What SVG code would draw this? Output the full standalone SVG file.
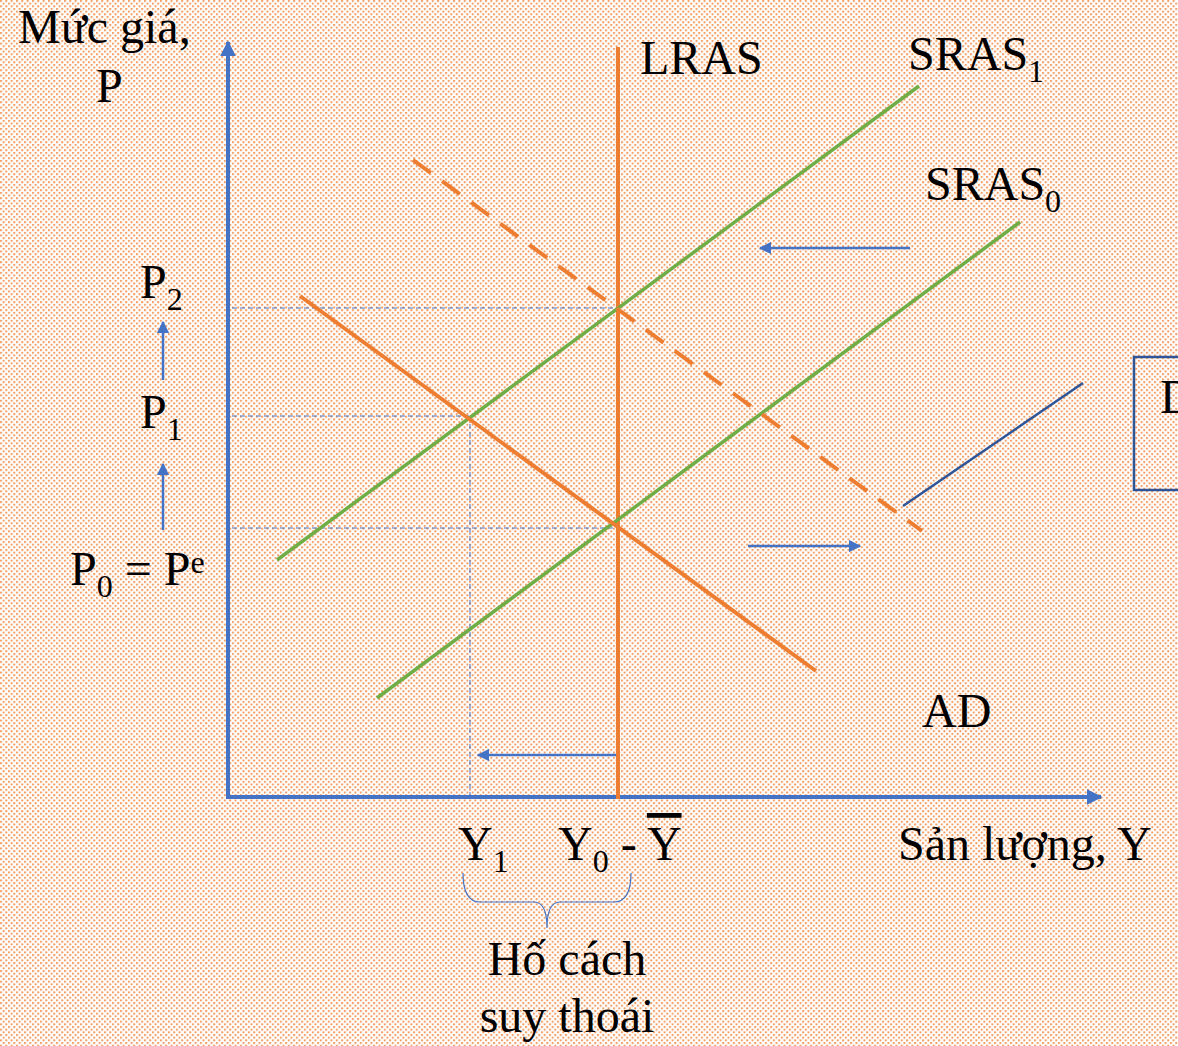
<svg xmlns="http://www.w3.org/2000/svg" width="1178" height="1046" viewBox="0 0 1178 1046">
<defs>
<pattern id="dots" x="0" y="0" width="5.33" height="5.33" patternUnits="userSpaceOnUse">
<rect x="0" y="0" width="2" height="2" fill="#F19E66"/>
<rect x="2.67" y="2.67" width="2" height="2" fill="#F19E66"/>
</pattern>
<marker id="ah" viewBox="0 0 10 10" refX="9" refY="5" markerWidth="4" markerHeight="4" markerUnits="strokeWidth" orient="auto">
<path d="M0,0 L10,5 L0,10 z" fill="#4472C4"/>
</marker>
<marker id="ahs" viewBox="0 0 10 10" refX="9" refY="5" markerWidth="5" markerHeight="5" markerUnits="strokeWidth" orient="auto">
<path d="M0,0 L10,5 L0,10 z" fill="#4472C4"/>
</marker>
</defs>
<style>
text{font-family:"Liberation Serif","DejaVu Serif",serif;font-size:48px;fill:#000}
.sub{font-size:32px}
.axis{stroke:#4472C4;stroke-width:4;fill:none}
.guide{stroke:#4472C4;stroke-width:1;stroke-dasharray:5 3;fill:none}
.sras{stroke:#70AD47;stroke-width:3.5;fill:none}
.org{stroke:#ED7D31;stroke-width:4;fill:none}
.arr{stroke:#4472C4;stroke-width:2.5;fill:none}
</style>
<rect width="1178" height="1046" fill="#fff"/>
<rect width="1178" height="1046" fill="url(#dots)"/>

<g id="connectors">
<line class="guide" x1="232" y1="308" x2="618" y2="308"/>
<line class="guide" x1="232" y1="416" x2="470" y2="416"/>
<line class="guide" x1="232" y1="528" x2="618" y2="528"/>
<line class="guide" x1="470" y1="416" x2="470" y2="797"/>
<line class="axis" x1="228" y1="799" x2="228" y2="42" marker-end="url(#ah)"/>
<line class="axis" x1="226" y1="797" x2="1101" y2="797" marker-end="url(#ah)"/>
<line class="org" x1="618" y1="47" x2="618" y2="799"/>
<line class="sras" x1="277" y1="560" x2="919" y2="86"/>
<line class="sras" x1="377" y1="698" x2="1020" y2="222"/>
<line class="org" x1="300" y1="296" x2="816" y2="671"/>
<line class="org" x1="413" y1="160" x2="922" y2="531" stroke-dasharray="22 14"/>
<line class="arr" x1="910" y1="248" x2="760" y2="248" marker-end="url(#ahs)"/>
<line class="arr" x1="748" y1="546" x2="860" y2="546" marker-end="url(#ahs)"/>
<line class="arr" x1="616" y1="755" x2="478" y2="755" marker-end="url(#ahs)"/>
<line class="arr" x1="163" y1="380" x2="163" y2="322" marker-end="url(#ahs)"/>
<line class="arr" x1="163" y1="530" x2="163" y2="464" marker-end="url(#ahs)"/>
<line x1="903" y1="506" x2="1083" y2="383" stroke="#2F5597" stroke-width="2.5"/>
<path d="M463,873 Q463,902 480,902 L534,902 Q547,902 547,928 Q547,902 560,902 L614,902 Q631,902 631,873" fill="none" stroke="#4472C4" stroke-width="1.2"/>
</g>

<g id="box">
<rect x="1134" y="357" width="60" height="133" fill="none" stroke="#2F5597" stroke-width="2.5"/>
<text x="1160" y="413">D</text>
</g>

<g id="labels">
<text x="18" y="43">Mức giá,</text>
<text x="96" y="102">P</text>
<text x="640" y="74">LRAS</text>
<text x="908" y="70">SRAS<tspan class="sub" dy="12">1</tspan></text>
<text x="925" y="200">SRAS<tspan class="sub" dy="12">0</tspan></text>
<text x="140" y="298">P<tspan class="sub" dy="12">2</tspan></text>
<text x="140" y="428">P<tspan class="sub" dy="12">1</tspan></text>
<text x="70" y="585">P<tspan class="sub" dy="12">0</tspan><tspan dy="-12"> = P</tspan><tspan class="sub" dy="-12">e</tspan></text>
<text x="922" y="727">AD</text>
<text x="458" y="860">Y<tspan class="sub" dy="12">1</tspan></text>
<text x="558" y="860">Y<tspan class="sub" dy="12">0</tspan><tspan dy="-12"> - </tspan><tspan text-decoration="overline">Y</tspan></text>
<text x="898" y="860">Sản lượng, Y</text>
<text x="567" y="975" text-anchor="middle">Hố cách</text>
<text x="567" y="1032" text-anchor="middle">suy thoái</text>
</g>
</svg>
